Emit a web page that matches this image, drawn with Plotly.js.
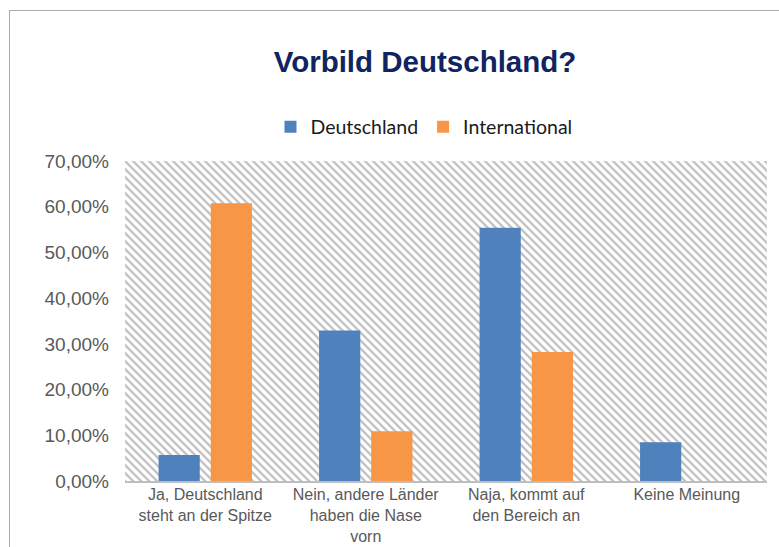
<!DOCTYPE html>
<html>
<head>
<meta charset="utf-8">
<script src="https://cdn.plot.ly/plotly-3.0.1.min.js"></script>
<style>
  html, body { margin: 0; padding: 0; background: #ffffff; }
  #wrap { position: relative; width: 779px; height: 547px; overflow: hidden; }
  #chart { position: absolute; left: 0; top: 0; width: 779px; height: 547px; }
  #frame { position: absolute; left: 9px; top: 10px; width: 800px; height: 600px;
           border-left: 1px solid #aaaaaa; border-top: 1px solid #aaaaaa; pointer-events: none; }
</style>
</head>
<body>
<div id="wrap">
  <div id="chart"></div>
  <div id="frame"></div>
</div>
<script>
// ---- data ----
const categories = [
  "Ja, Deutschland<br>steht an der Spitze",
  "Nein, andere Länder<br>haben die Nase<br>vorn",
  "Naja, kommt auf<br>den Bereich an",
  "Keine Meinung"
];
const seriesNames = ["Deutschland", "International"];
const deutschland = [0.057, 0.329, 0.554, 0.085];
const international = [0.6075, 0.109, 0.282, 0];
const yTickValues = [0, 0.1, 0.2, 0.3, 0.4, 0.5, 0.6, 0.7];

// ---- layout constants ----
const W = 779, H = 547;
const M = { l: 125, r: 12, t: 161, b: 66 };
const plotW = W - M.l - M.r, plotH = H - M.t - M.b;

// hatched plot-area background (decoration)
const hatchSvg =
  '<svg xmlns="http://www.w3.org/2000/svg" width="' + plotW + '" height="' + plotH + '">' +
  '<defs><pattern id="p" width="8" height="8" patternUnits="userSpaceOnUse">' +
  '<path d="M-2,-2 L10,10 M-2,6 L2,10 M6,-2 L10,2" stroke="#c4c4c4" stroke-width="2.4"/>' +
  '</pattern></defs>' +
  '<rect width="100%" height="100%" fill="#ffffff"/>' +
  '<rect width="100%" height="100%" fill="url(#p)"/></svg>';
const hatchUri = 'data:image/svg+xml;base64,' + btoa(hatchSvg);

const yTickFont = { family: '"Liberation Sans", Arial, sans-serif', size: 19, color: '#595959' };
const xTickFont = { family: '"Liberation Sans", Arial, sans-serif', size: 16, color: '#595959' };

const traces = [
  { type: 'bar', name: seriesNames[0], x: categories, y: deutschland,
    marker: { color: '#4F81BD' } },
  { type: 'bar', name: seriesNames[1], x: categories, y: international,
    marker: { color: '#F79646' } }
];

const layout = {
  width: W, height: H,
  margin: M,
  paper_bgcolor: '#ffffff',
  plot_bgcolor: 'rgba(0,0,0,0)',
  separators: ', ',
  barmode: 'group',
  bargap: 0.35,
  bargroupgap: 0.21,
  title: {
    text: 'Vorbild Deutschland?',
    font: { family: '"Liberation Sans", Arial, sans-serif', size: 29.5, color: '#0F2461', weight: 'bold' },
    xref: 'container', yref: 'container',
    x: 425 / W, xanchor: 'center',
    y: 1 - 62 / H, yanchor: 'middle'
  },
  legend: {
    orientation: 'h',
    x: (424 - M.l) / plotW, xanchor: 'center',
    y: 1 + (M.t - 127) / plotH, yanchor: 'middle',
    font: { family: 'Lato, "Open Sans", sans-serif', size: 19.5, color: '#1a1a1a' },
    itemwidth: 30,
    traceorder: 'normal'
  },
  xaxis: {
    type: 'category',
    tickfont: xTickFont,
    showgrid: false,
    showline: true, linecolor: '#bfbfbf', linewidth: 2,
    ticks: '', ticklabelstandoff: -2,
    zeroline: false, fixedrange: true
  },
  yaxis: {
    range: [0, 0.7],
    tickvals: yTickValues,
    tickformat: '.2%',
    tickfont: yTickFont,
    showgrid: false, zeroline: false, showline: false,
    ticks: '', ticklabelstandoff: 15,
    fixedrange: true
  },
  images: [{
    source: hatchUri, xref: 'paper', yref: 'paper',
    x: 0, y: 1, sizex: 1, sizey: 1, sizing: 'stretch',
    xanchor: 'left', yanchor: 'top', layer: 'below'
  }],
  showlegend: true
};

Plotly.newPlot('chart', traces, layout, { staticPlot: true, displayModeBar: false });
</script>
</body>
</html>
